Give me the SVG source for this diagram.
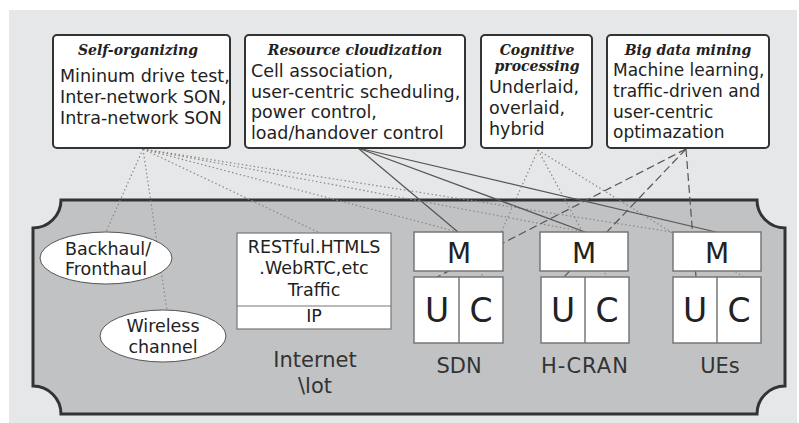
<svg xmlns="http://www.w3.org/2000/svg" width="799" height="423" viewBox="0 0 799 423">
<style>
.box{fill:#fff;stroke:#333;stroke-width:2}
.title{font-family:"DejaVu Serif",serif;font-weight:bold;font-style:italic;font-size:14px;fill:#222;text-anchor:middle}
.body{font-family:"DejaVu Sans",sans-serif;font-size:17.5px;fill:#222}
.lbl{font-family:"DejaVu Sans",sans-serif;font-size:17.5px;fill:#222;text-anchor:middle}
.big{font-family:"DejaVu Sans",sans-serif;font-size:21px;fill:#333;text-anchor:middle}
.mb{fill:#fff;stroke:#777;stroke-width:1.5}
.ml{font-family:"DejaVu Sans",sans-serif;font-size:28px;fill:#222;text-anchor:middle}
.ul{font-family:"DejaVu Sans",sans-serif;font-size:33px;fill:#222;text-anchor:middle}
.dot{stroke:#888;stroke-width:1.2;stroke-dasharray:1.5 2.5;fill:none}
.solid{stroke:#555;stroke-width:1.2;fill:none}
.dash{stroke:#555;stroke-width:1.2;stroke-dasharray:8 4;fill:none}
.ell{fill:#fff;stroke:#555;stroke-width:1}
</style>
<rect x="9" y="10" width="788" height="413" fill="#e6e7e8"/>
<g id="panel">
<path d="M61,200 H757 A28 28 0 0 0 785 228 V386 A28 28 0 0 0 757 414 H61 A28 28 0 0 0 33 386 V228 A28 28 0 0 0 61 200 Z" fill="#c1c2c4" stroke="#333" stroke-width="3"/>
</g>
<g id="connectors">
<line class="dot" x1="143" y1="149" x2="106" y2="232"/>
<line class="dot" x1="143" y1="149" x2="167" y2="310"/>
<line class="dot" x1="143" y1="149" x2="320" y2="233"/>
<line class="dot" x1="143" y1="149" x2="458" y2="232"/>
<line class="dot" x1="143" y1="149" x2="585" y2="232"/>
<line class="dot" x1="143" y1="149" x2="672" y2="232"/>
<line class="solid" x1="358" y1="148" x2="458" y2="232"/>
<line class="solid" x1="358" y1="148" x2="585" y2="232"/>
<line class="solid" x1="358" y1="148" x2="716" y2="232"/>
<line class="dot" x1="538" y1="150" x2="481" y2="277"/>
<line class="dot" x1="538" y1="150" x2="607" y2="277"/>
<line class="dot" x1="538" y1="150" x2="744" y2="277"/>
<line class="dash" x1="686" y1="149" x2="437" y2="277"/>
<line class="dash" x1="686" y1="149" x2="564" y2="277"/>
<line class="dash" x1="686" y1="149" x2="696" y2="277"/>
</g>
<g id="self-organizing">
<rect class="box" x="53" y="35" width="177" height="113" rx="4"/>
<text class="title" x="138" y="55">Self-organizing</text>
<text class="body" x="60" y="82">Mininum drive test,</text>
<text class="body" x="60" y="103">Inter-network SON,</text>
<text class="body" x="60" y="124">Intra-network SON</text>
</g>
<g id="resource-cloudization">
<rect class="box" x="245" y="35" width="220" height="113" rx="4"/>
<text class="title" x="355" y="55">Resource cloudization</text>
<text class="body" x="251" y="77">Cell association,</text>
<text class="body" x="251" y="98">user-centric scheduling,</text>
<text class="body" x="251" y="118">power control,</text>
<text class="body" x="251" y="139">load/handover control</text>
</g>
<g id="cognitive-processing">
<rect class="box" x="481" y="35" width="111" height="113" rx="4"/>
<text class="title" x="537" y="55">Cognitive</text>
<text class="title" x="537" y="71">processing</text>
<text class="body" x="489" y="93">Underlaid,</text>
<text class="body" x="489" y="114">overlaid,</text>
<text class="body" x="489" y="135">hybrid</text>
</g>
<g id="big-data-mining">
<rect class="box" x="607" y="35" width="162" height="113" rx="4"/>
<text class="title" x="688" y="55">Big data mining</text>
<text class="body" x="613" y="76" style="font-size:17px">Machine learning,</text>
<text class="body" x="613" y="97" style="font-size:17px">traffic-driven and</text>
<text class="body" x="613" y="118" style="font-size:17px">user-centric</text>
<text class="body" x="613" y="138" style="font-size:17px">optimazation</text>
</g>
<g id="backhaul">
<ellipse class="ell" cx="106" cy="258" rx="66" ry="26"/>
<text class="lbl" x="108" y="255">Backhaul/</text>
<text class="lbl" x="106" y="275">Fronthaul</text>
</g>
<g id="wireless">
<ellipse class="ell" cx="163" cy="336" rx="63" ry="26"/>
<text class="lbl" x="163" y="332">Wireless</text>
<text class="lbl" x="163" y="353">channel</text>
</g>
<g id="internet">
<rect x="237" y="233" width="154" height="96" fill="#fff" stroke="#777" stroke-width="1.2"/>
<line x1="237" y1="306" x2="391" y2="306" stroke="#777" stroke-width="1.2"/>
<text class="lbl" x="314" y="253">RESTful.HTMLS</text>
<text class="lbl" x="314" y="274">.WebRTC,etc</text>
<text class="lbl" x="314" y="296">Traffic</text>
<text class="lbl" x="314" y="322">IP</text>
<text class="big" x="315" y="367">Internet</text>
<text class="big" x="315" y="393">\lot</text>
</g>
<g id="sdn">
<rect class="mb" x="414" y="232" width="89" height="39"/>
<text class="ml" x="459" y="263">M</text>
<rect class="mb" x="414" y="277" width="89" height="66"/>
<line x1="459" y1="277" x2="459" y2="343" stroke="#777" stroke-width="1.5"/>
<text class="ul" x="437" y="322">U</text>
<text class="ul" x="481" y="322">C</text>
<text class="big" x="459" y="373">SDN</text>
</g>
<g id="h-cran">
<rect class="mb" x="540" y="232" width="88" height="39"/>
<text class="ml" x="584" y="263">M</text>
<rect class="mb" x="541" y="277" width="88" height="66"/>
<line x1="585" y1="277" x2="585" y2="343" stroke="#777" stroke-width="1.5"/>
<text class="ul" x="563" y="322">U</text>
<text class="ul" x="607" y="322">C</text>
<text class="big" x="585" y="373" letter-spacing="1">H-CRAN</text>
</g>
<g id="ues">
<rect class="mb" x="673" y="232" width="88" height="39"/>
<text class="ml" x="717" y="263">M</text>
<rect class="mb" x="673" y="277" width="88" height="66"/>
<line x1="717" y1="277" x2="717" y2="343" stroke="#777" stroke-width="1.5"/>
<text class="ul" x="695" y="322">U</text>
<text class="ul" x="739" y="322">C</text>
<text class="big" x="720" y="373">UEs</text>
</g>
</svg>
